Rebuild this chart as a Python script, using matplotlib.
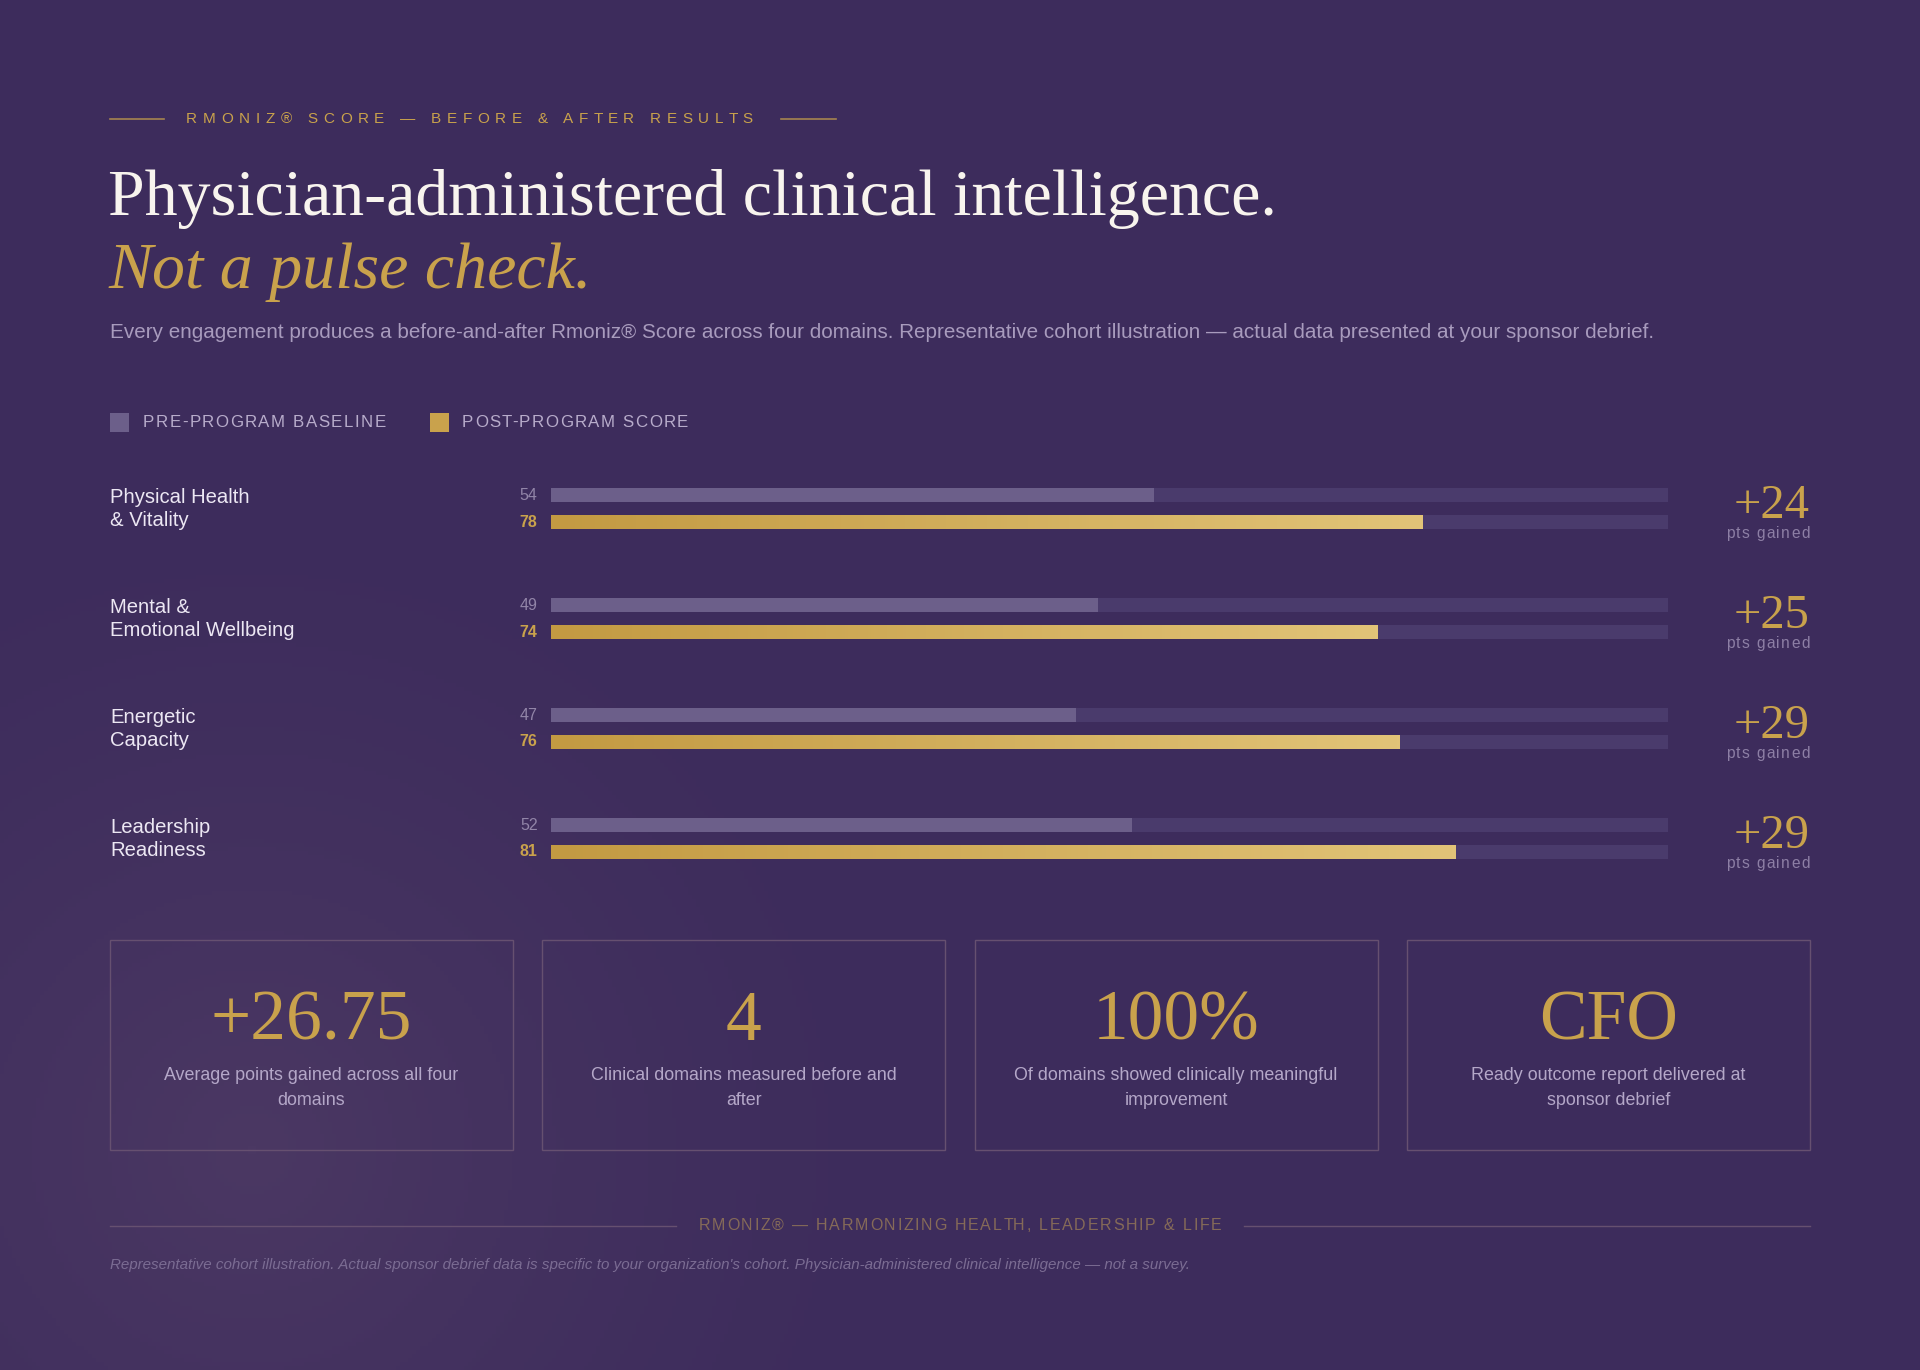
import numpy as np
import matplotlib.pyplot as plt
from matplotlib.patches import Rectangle
from matplotlib.colors import LinearSegmentedColormap
from matplotlib.font_manager import FontProperties

# data
domains = ["Physical Health\n& Vitality", "Mental &\nEmotional Wellbeing",
           "Energetic\nCapacity", "Leadership\nReadiness"]
pre_scores = [54, 49, 47, 52]
post_scores = [78, 74, 76, 81]
gains = [b - a for a, b in zip(pre_scores, post_scores)]

card_values = ["+{:.2f}".format(np.mean(gains)), str(len(domains)), "100%", "CFO"]
card_texts = ["Average points gained across all four\ndomains",
              "Clinical domains measured before and\nafter",
              "Of domains showed clinically meaningful\nimprovement",
              "Ready outcome report delivered at\nsponsor debrief"]

BG = "#3d2c5c"
TRACK = "#4a3b6c"
PRE = "#6c5f8a"
GOLD = "#c9a24c"
SANS = "Liberation Sans"
SERIF = "Liberation Serif"

W, H = 1920, 1370
fig = plt.figure(figsize=(W / 100, H / 100), dpi=100, facecolor=BG)
bg = fig.add_axes([0, 0, 1, 1])
bg.set_xlim(0, W)
bg.set_ylim(H, 0)
bg.axis("off")
renderer = fig.canvas.get_renderer()

# soft glow bottom-left
yy, xx = np.mgrid[0:H:4, 0:W:4]
d = np.sqrt((xx - 250) ** 2 + (yy - 1150) ** 2)
glow = np.clip(1 - d / 700, 0, 1) ** 1.5
glow_cmap = LinearSegmentedColormap.from_list("g", [BG, "#4b3863"])
bg.imshow(glow, extent=[0, W, H, 0], cmap=glow_cmap, aspect="auto", zorder=0)


def tracked(x, y, s, track, size, color, ha="left", **kw):
    # letter-spaced text, drawn one glyph at a time (pixel units on bg)
    prop = FontProperties(family=SANS, size=size)
    base = renderer.get_text_width_height_descent("aa", prop, ismath=False)[0]
    widths = [renderer.get_text_width_height_descent("a" + c + "a", prop, ismath=False)[0] - base
              for c in s]
    total = sum(widths) + track * (len(s) - 1)
    if ha == "right":
        x -= total
    elif ha == "center":
        x -= total / 2
    for c, w in zip(s, widths):
        bg.text(x, y, c, fontproperties=prop, color=color, va="center", ha="left", **kw)
        x += w + track


# eyebrow
bg.plot([110, 164], [119, 119], color=GOLD, alpha=0.75, lw=1.2)
bg.plot([781, 836], [119, 119], color=GOLD, alpha=0.75, lw=1.2)
tracked(186, 119, "RMONIZ® SCORE — BEFORE & AFTER RESULTS", 5.7, 11, GOLD)

# title
bg.text(108, 215, "Physician-administered clinical intelligence.", color="#f8f4ee",
        fontsize=47.4, family=SERIF, va="baseline")
bg.text(108, 288, "Not a pulse check.", color=GOLD, fontsize=47.4, family=SERIF,
        style="italic", va="baseline")
bg.text(110, 332, "Every engagement produces a before-and-after Rmoniz® Score across four domains. "
        "Representative cohort illustration — actual data presented at your sponsor debrief.",
        color="#a89bbd", fontsize=14.85, family=SANS, va="center")

# legend
bg.add_patch(Rectangle((110, 413), 19, 19, facecolor=PRE, edgecolor="none"))
tracked(143, 422, "PRE-PROGRAM BASELINE", 1.5, 12.2, "#b8accb")
bg.add_patch(Rectangle((430, 413), 19, 19, facecolor=GOLD, edgecolor="none"))
tracked(462, 422, "POST-PROGRAM SCORE", 1.5, 12.2, "#b8accb")

# bars
ax = fig.add_axes([551 / W, 1 - 893.5 / H, (1668 - 551) / W, 440 / H])
ax.set_facecolor("none")
ax.axis("off")
idx = np.arange(len(domains))
off = 13.5 / 110
bh = 13.5 / 110
ax.barh(idx - off, [100] * len(idx), height=bh, color=TRACK, zorder=1)
ax.barh(idx + off, [100] * len(idx), height=bh, color=TRACK, zorder=1)
ax.barh(idx - off, pre_scores, height=bh, color=PRE, zorder=2)
post_bars = ax.barh(idx + off, post_scores, height=bh, color="none", zorder=2)
gold_cmap = LinearSegmentedColormap.from_list("gold", ["#c39a42", "#e2c478"])
grad = np.linspace(0, 1, 256).reshape(1, -1)
for rect in post_bars:
    x0, y0 = rect.get_x(), rect.get_y()
    im = ax.imshow(grad, extent=[x0, x0 + rect.get_width(), y0 + rect.get_height(), y0],
                   cmap=gold_cmap, aspect="auto", zorder=3)
    im.set_clip_path(rect)
ax.set_xlim(0, 100)
ax.set_ylim(3.5, -0.5)

for i in idx:
    ax.text(-1.2, i - off, str(pre_scores[i]), ha="right", va="center", color="#9285a8",
            fontsize=11.5, family=SANS)
    ax.text(-1.2, i + off, str(post_scores[i]), ha="right", va="center", color=GOLD,
            fontsize=11.5, family=SANS, weight="bold")

# row labels and gains
for i, name in enumerate(domains):
    yc = 508 + 110 * i
    bg.text(110, yc + 1, name, color="#ece7f3", fontsize=14.6, family=SANS, va="center",
            linespacing=1.27)
    bg.text(1810, yc - 2, "+{}".format(gains[i]), color=GOLD, fontsize=35, family=SERIF,
            ha="right", va="center")
    tracked(1810, yc + 25, "pts gained", 1.4, 11.2, "#8d7fa5", ha="right")

# cards
cw, gap = 403, (1700 - 4 * 403) / 3
for i in range(4):
    x0 = 110 + i * (cw + gap)
    bg.add_patch(Rectangle((x0, 940), cw, 210, facecolor="none", edgecolor="#665070", lw=1.0))
    bg.text(x0 + cw / 2, 1040, card_values[i], color=GOLD, fontsize=51.5, family=SERIF,
            ha="center", va="baseline")
    bg.text(x0 + cw / 2, 1088, card_texts[i], color="#b4a7c8", fontsize=12.85, family=SANS,
            ha="center", va="center", linespacing=1.54)

# footer
bg.plot([110, 676], [1226, 1226], color="#665070", lw=1.0)
bg.plot([1244, 1810], [1226, 1226], color="#665070", lw=1.0)
tracked(960, 1226, "RMONIZ® — HARMONIZING HEALTH, LEADERSHIP & LIFE", 1.76, 11.5, "#856a58",
        ha="center")
bg.text(110, 1265, "Representative cohort illustration. Actual sponsor debrief data is specific "
        "to your organization's cohort. Physician-administered clinical intelligence — not a survey.",
        color="#7b6c93", fontsize=10.86, family=SANS, style="italic", va="center")

fig.savefig("out.png", dpi=100, facecolor=BG)
